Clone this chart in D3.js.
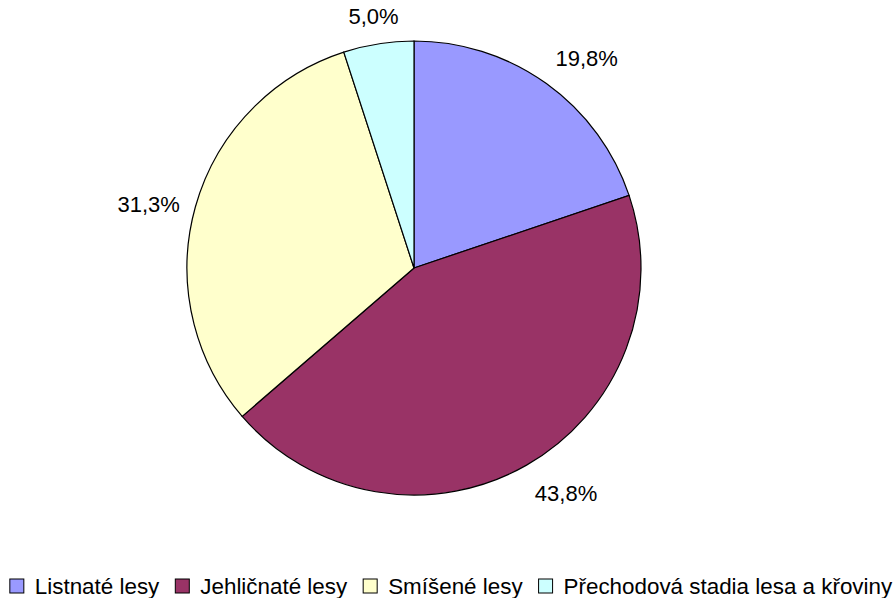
<!DOCTYPE html>
<html>
<head>
<meta charset="utf-8">
<script src="https://cdn.jsdelivr.net/npm/d3@7"></script>
<style>
  body { margin: 0; background: #fff; }
  svg { display: block; }
</style>
</head>
<body>
<svg id="chart" width="896" height="598"></svg>
<script>
const width = 896;
const height = 598;

// data
const categories = ["Listnaté lesy", "Jehličnaté lesy", "Smíšené lesy", "Přechodová stadia lesa a křoviny"];
const values = [19.8, 43.8, 31.3, 5.0];
const labels = ["19,8%", "43,8%", "31,3%", "5,0%"];
const colors = ["#9999FF", "#993366", "#FFFFCC", "#CCFFFF"];

const svg = d3.select("#chart");
const cx = 414, cy = 268, radius = 227;
const fontFamily = "'Liberation Sans', Arial, sans-serif";

// small hand nudges so the labels sit where Excel put them
const labelNudge = [[15, 10], [19, -8], [0, 10], [0, 4]];

const data = categories.map((c, i) => ({ name: c, value: values[i], label: labels[i], color: colors[i] }));

const pie = d3.pie().sort(null).value(d => d.value);
const arc = d3.arc().innerRadius(0).outerRadius(radius);
const arcs = pie(data);

const g = svg.append("g").attr("transform", `translate(${cx},${cy})`);

g.selectAll("path")
    .data(arcs)
    .enter().append("path")
    .attr("d", arc)
    .attr("fill", d => d.data.color)
    .attr("stroke", "#000")
    .attr("stroke-width", 1.2);

// labels outside the pie, pushed out by half of their box
const gap = 15;
const lbl = g.selectAll("text.lbl")
    .data(arcs)
    .enter().append("text")
    .attr("class", "lbl")
    .attr("font-family", fontFamily)
    .attr("font-size", "22px")
    .attr("fill", "#000")
    .attr("text-anchor", "middle")
    .attr("dominant-baseline", "central")
    .text(d => d.data.label);

lbl.each(function(d, i) {
    const bb = this.getBBox();
    const a = (d.startAngle + d.endAngle) / 2;
    const ux = Math.sin(a), uy = -Math.cos(a);
    const dist = radius + gap + Math.abs(ux) * bb.width / 2 + Math.abs(uy) * bb.height / 2;
    d3.select(this)
        .attr("x", ux * dist + labelNudge[i][0])
        .attr("y", uy * dist + labelNudge[i][1]);
});

// legend along the bottom
const legend = svg.append("g").attr("class", "legend");
let x = 0;
const box = 14, boxGap = 11, itemGap = 16;
const items = legend.selectAll("g")
    .data(data)
    .enter().append("g");

items.append("rect")
    .attr("width", box)
    .attr("height", box)
    .attr("y", -box / 2)
    .attr("fill", d => d.color)
    .attr("stroke", "#000")
    .attr("stroke-width", 1);

items.append("text")
    .attr("x", box + boxGap)
    .attr("dominant-baseline", "central")
    .attr("font-family", fontFamily)
    .attr("font-size", "22.4px")
    .attr("fill", "#000")
    .text(d => d.name);

items.each(function() {
    const t = d3.select(this).select("text").node().getComputedTextLength();
    d3.select(this).attr("transform", `translate(${x},0)`);
    x += box + boxGap + t + itemGap;
});
const totalW = x - itemGap;
legend.attr("transform", `translate(${(width - totalW) / 2 + 3},586)`);
</script>
</body>
</html>
